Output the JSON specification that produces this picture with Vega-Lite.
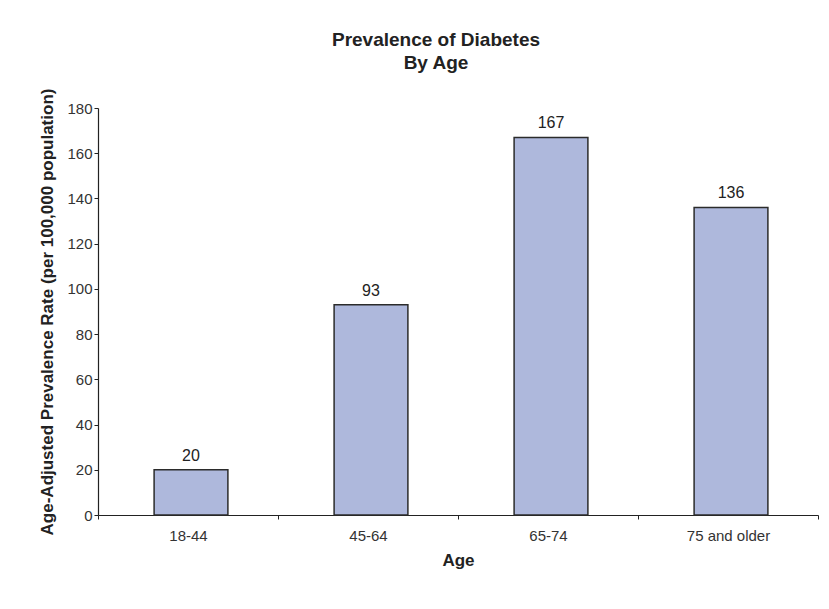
{
  "$schema": "https://vega.github.io/schema/vega-lite/v6.json",
  "autosize": "none",
  "width": 720,
  "height": 407,
  "padding": {"left": 98, "top": 108, "right": 11, "bottom": 87},
  "background": "white",
  "title": {
    "text": ["Prevalence of Diabetes", "By Age"],
    "font": "Liberation Sans",
    "fontSize": 19,
    "fontWeight": "bold",
    "color": "#222222",
    "lineHeight": 23,
    "anchor": "middle",
    "frame": "group",
    "dx": -22,
    "offset": 15
  },
  "data": {
    "values": [
      {"age": "18-44", "rate": 20},
      {"age": "45-64", "rate": 93},
      {"age": "65-74", "rate": 167},
      {"age": "75 and older", "rate": 136}
    ]
  },
  "encoding": {
    "x": {
      "field": "age",
      "type": "nominal",
      "sort": null,
      "title": "Age",
      "scale": {"paddingInner": 0, "paddingOuter": 0},
      "axis": {
        "labelAngle": 0,
        "tickBand": "extent",
        "tickSize": 4,
        "labelPadding": 9,
        "titlePadding": 9
      }
    },
    "y": {
      "field": "rate",
      "type": "quantitative",
      "title": "Age-Adjusted Prevalence Rate (per 100,000 population)",
      "scale": {"domain": [0, 180]},
      "axis": {
        "values": [0, 20, 40, 60, 80, 100, 120, 140, 160, 180],
        "tickSize": 4,
        "labelPadding": 2,
        "titlePadding": 10
      }
    }
  },
  "layer": [
    {
      "mark": {
        "type": "bar",
        "width": {"band": 0.41},
        "xOffset": 3,
        "color": "#AEB8DC",
        "stroke": "#2b2b2b",
        "strokeWidth": 1.5
      }
    },
    {
      "mark": {
        "type": "text",
        "baseline": "bottom",
        "dy": -6,
        "xOffset": 3,
        "font": "Liberation Sans",
        "fontSize": 16,
        "color": "#222222"
      },
      "encoding": {"text": {"field": "rate", "type": "quantitative"}}
    }
  ],
  "config": {
    "view": {"stroke": null},
    "axis": {
      "grid": false,
      "domainColor": "#222222",
      "domainWidth": 1.2,
      "tickColor": "#222222",
      "labelFont": "Liberation Sans",
      "labelFontSize": 15,
      "labelColor": "#333333",
      "titleFont": "Liberation Sans",
      "titleFontSize": 17,
      "titleFontWeight": "bold",
      "titleColor": "#222222"
    }
  }
}
